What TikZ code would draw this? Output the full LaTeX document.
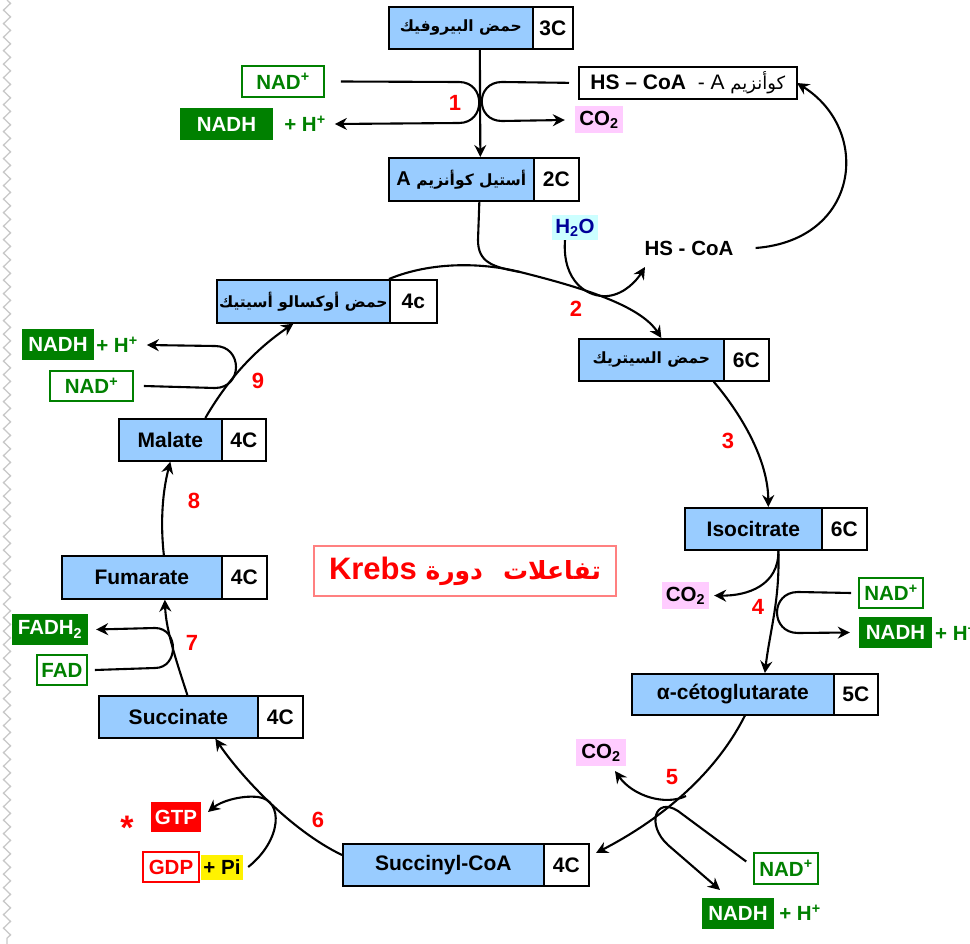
\documentclass[tikz,border=0pt]{standalone}
\usepackage{fontspec}
\setmainfont{Liberation Sans}
\newfontfamily\arabicfont[Script=Arabic]{DejaVu Sans}
\TeXXeTstate=1
\usetikzlibrary{arrows.meta,decorations.pathmorphing}
\definecolor{boxblue}{HTML}{99CCFF}
\definecolor{dgreen}{HTML}{008000}
\definecolor{pinkbg}{HTML}{FFCCFF}
\definecolor{cyanbg}{HTML}{CCFFFF}
\definecolor{navy}{HTML}{000099}
\definecolor{titleborder}{HTML}{FF8080}
\definecolor{zig}{HTML}{C8C8C8}
\newcommand\artxt[1]{{\arabicfont\beginR #1\endR}}
\begin{document}
\begin{tikzpicture}[x=1pt,y=-1pt,
  bb/.style={draw, fill=boxblue, line width=1.7pt, anchor=north west, inner sep=0pt,
    font=\fontsize{21}{24}\selectfont\bfseries},
  wb/.style={bb, fill=white},
  arbox/.style={font=\fontsize{15.5}{18}\selectfont\bfseries},
  lbl/.style={inner sep=0pt, font=\fontsize{20.5}{24}\selectfont\bfseries},
  nadbox/.style={lbl, draw=dgreen, line width=1.6pt, fill=white, text=dgreen},
  nadhbox/.style={lbl, fill=dgreen, text=white},
  hplus/.style={lbl, text=dgreen},
  co2/.style={lbl, fill=pinkbg, text=black},
  num/.style={inner sep=0pt, text=red, font=\fontsize{22}{24}\selectfont\bfseries},
  ln/.style={line width=2.1pt, black},
  arr/.style={ln, -{Stealth[length=12pt,width=12pt,inset=4pt]}}
]
\useasboundingbox (0,0) rectangle (970,944);
\draw[zig, line width=1.3pt, decorate, decoration={zigzag, segment length=13.5pt, amplitude=3.5pt}] (7,0) -- (7,944);

% ---------- boxes ----------
\node[bb, arbox, minimum width=144pt, minimum height=42pt] (pyr) at (388,6) {\artxt{حمض البيروفيك}};
\node[wb, minimum width=40pt, minimum height=42pt] (pyrC) at (532,6) {3C};

\node[bb, arbox, minimum width=145pt, minimum height=43pt] (acet) at (388,157) {\artxt{أستيل كوأنزيم \beginL{\rmfamily\bfseries\fontsize{20}{24}\selectfont A}\endL}};
\node[wb, minimum width=45pt, minimum height=43pt] (acetC) at (533,157) {2C};

\node[bb, arbox, minimum width=173pt, minimum height=43pt] (oxa) at (216,279) {\artxt{حمض أوكسالو أسيتيك}};
\node[wb, minimum width=47pt, minimum height=43pt] (oxaC) at (389,279) {4c};

\node[bb, arbox, minimum width=145pt, minimum height=42pt] (cit) at (578,338) {\artxt{حمض السيتريك}};
\node[wb, minimum width=45pt, minimum height=42pt] (citC) at (723,338) {6C};

\node[bb, minimum width=137pt, minimum height=42pt] (iso) at (684,507) {Isocitrate};
\node[wb, minimum width=45pt, minimum height=42pt] (isoC) at (821,507) {6C};

\node[bb, minimum width=202pt, minimum height=41pt] (akg) at (631,673) {α-cétoglutarate};
\node[wb, minimum width=44pt, minimum height=41pt] (akgC) at (833,673) {5C};

\node[bb, minimum width=201pt, minimum height=42pt] (scoa) at (342,843) {Succinyl-CoA};
\node[wb, minimum width=45pt, minimum height=42pt] (scoaC) at (543,843) {4C};

\node[bb, minimum width=159pt, minimum height=42pt] (suc) at (98,695) {Succinate};
\node[wb, minimum width=45pt, minimum height=42pt] (sucC) at (257,695) {4C};

\node[bb, minimum width=160pt, minimum height=43pt] (fum) at (61,555) {Fumarate};
\node[wb, minimum width=45pt, minimum height=43pt] (fumC) at (221,555) {4C};

\node[bb, minimum width=103pt, minimum height=42pt] (mal) at (118,418) {Malate};
\node[wb, minimum width=44pt, minimum height=42pt] (malC) at (221,418) {4C};

\node[wb, minimum width=218pt, minimum height=32pt, font=\fontsize{21}{24}\selectfont] (hscoa) at (578,66)
  {\textbf{HS – CoA}\ \ - A \artxt{\fontsize{18}{20}\selectfont كوأنزيم}};

% title
\node[draw=titleborder, line width=1.3pt, minimum width=302pt, minimum height=50pt, inner sep=0pt,
  text=red, font=\fontsize{31}{34}\selectfont\bfseries] (title) at (465,571)
  {Krebs\ \artxt{\fontsize{25}{30}\selectfont تفاعلات\hspace{0.8em}دورة}};

% ---------- small labels ----------
\node[nadbox, minimum width=82pt, minimum height=31pt] (nad1) at (283,81.5) {NAD\textsuperscript{+}};
\node[nadhbox, minimum width=93pt, minimum height=32pt] (nadh1) at (226.5,124) {NADH};
\node[hplus] (hp1) at (305,124) {+ H\textsuperscript{+}};
\node[co2, minimum width=48pt, minimum height=27pt] (co2a) at (599,120) {CO\textsubscript{2}};

\node[lbl, fill=cyanbg, text=navy, minimum width=46pt, minimum height=25pt] (h2o) at (575,227.5) {H\textsubscript{2}O};
\node[lbl] (hscoa2) at (689,248) {HS - CoA};

\node[nadhbox, minimum width=72pt, minimum height=31pt] (nadh9) at (58,344.5) {NADH};
\node[hplus] (hp9) at (117,345) {+ H\textsuperscript{+}};
\node[nadbox, minimum width=83pt, minimum height=30pt] (nad9) at (91.5,386) {NAD\textsuperscript{+}};

\node[co2, minimum width=47pt, minimum height=27pt] (co2b) at (685.5,595.5) {CO\textsubscript{2}};
\node[nadbox, minimum width=64pt, minimum height=30pt] (nad4) at (891,593) {NAD\textsuperscript{+}};
\node[nadhbox, minimum width=73pt, minimum height=31pt] (nadh4) at (895.5,632.5) {NADH};
\node[hplus, anchor=west] (hp4) at (935,633) {+ H\textsuperscript{+}};

\node[co2, minimum width=50pt, minimum height=27pt] (co2c) at (601,752.5) {CO\textsubscript{2}};
\node[nadbox, minimum width=64pt, minimum height=31pt] (nad5) at (786,868.5) {NAD\textsuperscript{+}};
\node[nadhbox, minimum width=72pt, minimum height=31pt] (nadh5) at (738,913.5) {NADH};
\node[hplus] (hp5) at (800,913) {+ H\textsuperscript{+}};

\node[lbl, fill=red, text=white, minimum width=50pt, minimum height=30pt] (gtp) at (176,817) {GTP};
\node[inner sep=0pt, text=red, font=\fontsize{34}{36}\selectfont\bfseries] (star) at (127,828) {*};
\node[lbl, draw=red, line width=1.6pt, fill=white, text=red, minimum width=56pt, minimum height=30pt] (gdp) at (171,867) {GDP};
\node[lbl, fill=yellow, text=black, minimum width=42pt, minimum height=25pt] (pi) at (222,867) {+ Pi};

\node[nadhbox, minimum width=76pt, minimum height=31pt] (fadh) at (50,629.5) {FADH\textsubscript{2}};
\node[nadbox, minimum width=50pt, minimum height=30pt] (fad) at (62,670) {FAD};

% numbers
\node[num] (n1) at (455,103) {1};
\node[num] (n2) at (576,309) {2};
\node[num] (n3) at (728,441) {3};
\node[num] (n4) at (758,607) {4};
\node[num] (n5) at (672,777) {5};
\node[num] (n6) at (318,820) {6};
\node[num] (n7) at (192,643) {7};
\node[num] (n8) at (194,501) {8};
\node[num] (n9) at (258,381) {9};

% ---------- connectors ----------
% step 1
\draw[arr] ([xshift=19pt]pyr.south) -- ([xshift=19pt]acet.north);
\draw[arr] ([xshift=16pt]nad1.east) -- (459,82) .. controls (486,82) and (486,123) .. (459,123) -- ([xshift=9pt]hp1.east);
\draw[arr] ([xshift=-9pt]hscoa.west) -- (502,82) .. controls (475,82) and (475,121) .. (502,121) -- ([xshift=-10pt]co2a.west);
\draw[arr] ([xshift=22pt]hscoa2.east) .. controls (860,240) and (872,130) .. (797,83);

% step 2
\draw[arr] (oxaC.north west) .. controls (430,262) and (480,262) .. (520,272)
  .. controls (580,287) and (640,305) .. ([xshift=10pt]cit.north);
\draw[ln] ([xshift=18pt]acet.south) -- (478,240) .. controls (478,262) and (492,267) .. (520,272);
\draw[arr] ([xshift=-10pt]h2o.south) .. controls (562,282) and (588,298) .. (608,296)
  .. controls (625,294) and (637,280) .. (645,267);

% step 3
\draw[arr] ([xshift=-11pt]cit.south east) .. controls (742,415) and (768,460) .. ([xshift=15pt]iso.north);

% step 4
\draw[arr] ([xshift=25pt]iso.south) .. controls (780,600) and (770,630) .. ([xshift=32pt]akg.north);
\draw[arr] ([xshift=25pt]iso.south) .. controls (779,585) and (748,596) .. ([xshift=5pt]co2b.east);
\draw[arr] ([xshift=-7pt]nad4.west) -- (798,592) .. controls (770,592) and (770,633) .. (798,633) -- ([xshift=-9pt]nadh4.west);

% step 5
\draw[arr] ([xshift=12pt]akg.south) .. controls (715,775) and (660,820) .. (596,853);
\draw[arr] (686,796) .. controls (665,806) and (633,796) .. (615,771);
\draw[arr] ([xshift=-7pt,yshift=7pt]nad5.west) -- (678,811) .. controls (655,796) and (646,825) .. (668,845) -- (720,890);

% step 6
\draw[arr] ([yshift=-12pt]scoa.north west) .. controls (290,830) and (240,775) .. ([xshift=37pt]suc.south);
\draw[arr] ([xshift=5pt]pi.east) .. controls (282,840) and (284,800) .. (258,797)
  .. controls (240,795) and (220,802) .. (208,812);

% step 7
\draw[arr] ([xshift=9pt]suc.north) .. controls (176,660) and (166,630) .. ([xshift=23pt]fum.south);
\draw[arr] ([xshift=7pt]fad.east) -- (155,668) .. controls (179,668) and (179,628) .. (155,628) -- ([xshift=8pt]fadh.east);

% step 8
\draw[arr] ([xshift=22pt]fum.north) .. controls (160,520) and (163,490) .. (mal.south);

% step 9
\draw[arr] ([xshift=35pt]mal.north) .. controls (232,372) and (262,345) .. ([xshift=-10pt]oxa.south);
\draw[arr] ([xshift=10pt]nad9.east) -- (215,388) .. controls (243,388) and (243,346) .. (215,346) -- ([xshift=9pt]hp9.east);
\end{tikzpicture}
\end{document}
